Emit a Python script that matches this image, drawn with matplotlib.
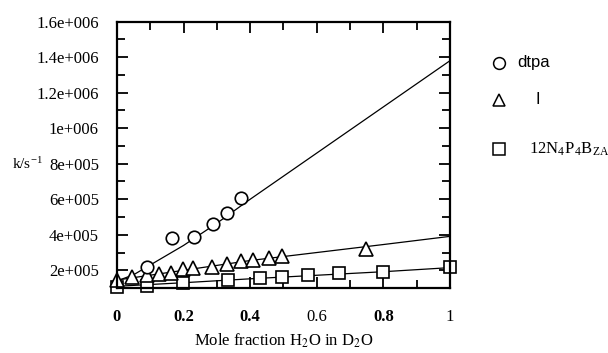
import matplotlib
matplotlib.use("Agg")
import matplotlib.pyplot as plt
from matplotlib.lines import Line2D

plt.rcParams['font.family'] = ['Liberation Serif', 'DejaVu Serif']
plt.rcParams['mathtext.fontset'] = 'stix'

# dtpa (circles)
x_dtpa = [0.089, 0.166, 0.231, 0.287, 0.330, 0.373]
k_dtpa = [2.19e5, 3.82e5, 3.87e5, 4.59e5, 5.25e5, 6.07e5]
fit_x_dtpa = [0.0, 0.05, 0.1, 0.2, 0.3, 0.4, 0.6, 0.8, 1.0]
fit_k_dtpa = [1.4e5, 1.75e5, 2.3e5, 3.4e5, 4.65e5, 6.0e5, 8.6e5, 1.12e6, 1.38e6]

# I (triangles)
x_tri = [0.0, 0.044, 0.089, 0.127, 0.162, 0.197, 0.228, 0.285, 0.330, 0.371, 0.410, 0.458, 0.495, 0.748]
k_tri = [1.44e5, 1.62e5, 1.72e5, 1.78e5, 1.87e5, 2.06e5, 2.15e5, 2.21e5, 2.34e5, 2.52e5,
         2.60e5, 2.71e5, 2.79e5, 3.22e5]
fit_x_tri = [0.0, 0.2, 0.4, 0.6, 0.8, 1.0]
fit_k_tri = [1.45e5, 2.0e5, 2.55e5, 3.0e5, 3.45e5, 3.91e5]

# 12N4P4BZA (squares)
x_sq = [0.0, 0.09, 0.197, 0.333, 0.430, 0.495, 0.573, 0.666, 0.799, 1.0]
k_sq = [1.06e5, 1.12e5, 1.31e5, 1.48e5, 1.59e5, 1.62e5, 1.72e5, 1.82e5, 1.91e5, 2.19e5]
fit_x_sq = [0.0, 0.2, 0.4, 0.6, 0.8, 1.0]
fit_k_sq = [1.1e5, 1.3e5, 1.52e5, 1.72e5, 1.92e5, 2.15e5]

yticks = [2e5, 4e5, 6e5, 8e5, 1e6, 1.2e6, 1.4e6, 1.6e6]
ytick_labels = ['2e+005', '4e+005', '6e+005', '8e+005', '1e+006', '1.2e+006', '1.4e+006', '1.6e+006']
xticks = [0, 0.2, 0.4, 0.6, 0.8, 1]
xtick_labels = ['0', '0.2', '0.4', '0.6', '0.8', '1']
xtick_bold = [True, True, True, False, True, False]

fig = plt.figure(figsize=(6.08, 3.53), dpi=100)
ax = fig.add_axes([0.1924, 0.184, 0.5476, 0.7546])

ax.plot(fit_x_dtpa, fit_k_dtpa, color='black', lw=0.9)
ax.plot(fit_x_tri, fit_k_tri, color='black', lw=0.9)
ax.plot(fit_x_sq, fit_k_sq, color='black', lw=0.9)

mk = dict(linestyle='none', mfc='white', mec='black', mew=1.2, clip_on=False)
ax.plot(x_sq, k_sq, marker='s', ms=8, **mk)
ax.plot(x_tri, k_tri, marker='^', ms=9.5, **mk)
ax.plot(x_dtpa, k_dtpa, marker='o', ms=9, **mk)

ax.set_xlim(0, 1)
ax.set_ylim(1e5, 1.6e6)

ax.set_yticks(yticks)
ax.set_yticklabels(ytick_labels, fontsize=12)
ax.set_yticks([3e5, 5e5, 7e5, 9e5, 1.1e6, 1.3e6, 1.5e6], minor=True)
ax.set_xticks(xticks)
ax.set_xticklabels(xtick_labels, fontsize=12)
for lab, b in zip(ax.get_xticklabels(), xtick_bold):
    lab.set_fontweight('bold' if b else 'normal')
ax.set_xticks([0.1, 0.3, 0.5, 0.7, 0.9], minor=True)

ax.tick_params(axis='both', which='major', direction='in', length=8, width=1.3,
               top=True, right=True, pad=13)
ax.tick_params(axis='both', which='minor', direction='in', length=6, width=1.3,
               top=True, right=True)
ax.tick_params(axis='x', which='major', pad=15)
for s in ax.spines.values():
    s.set_linewidth(1.6)

ax.set_xlabel('Mole fraction H$_2$O in D$_2$O', fontsize=12, labelpad=5)
fig.text(0.020, 0.537, 'k/s$^{\\mathregular{-1}}$', fontsize=11, va='center', ha='left')

# legend
leg_y = [1 - 63 / 353, 1 - 100 / 353, 1 - 149 / 353]
leg_m = ['o', '^', 's']
leg_t = ['dtpa', 'I', '12N$_{\\mathregular{4}}$P$_{\\mathregular{4}}$B$_{\\mathregular{ZA}}$']
leg_x = [0.850, 0.880, 0.870]
leg_fam = [['Liberation Sans'], ['Liberation Sans'], ['Liberation Serif']]
for y, m, t, tx, fam in zip(leg_y, leg_m, leg_t, leg_x, leg_fam):
    fig.add_artist(Line2D([0.820], [y], transform=fig.transFigure, marker=m, ms=8.5,
                          mfc='white', mec='black', mew=1.1, linestyle='none'))
    fig.text(tx, y, t, fontsize=12, va='center', ha='left', family=fam)

fig.savefig('out.png', dpi=100)
